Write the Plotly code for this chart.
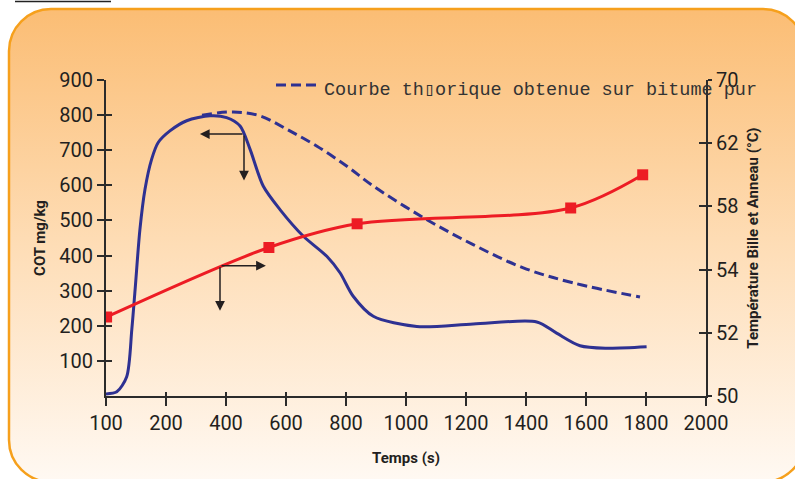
import base64
import numpy as np
import plotly.graph_objects as go

# ---------------- data ----------------
# x axis: time (s); tick labels as printed on the chart
x_tickvals = [0, 200, 400, 600, 800, 1000, 1200, 1400, 1600, 1800, 2000]
x_ticktext = ["100", "200", "400", "600", "800", "1000", "1200", "1400", "1600", "1800", "2000"]

# COT (mg/kg) measured curve
cot_t = [0, 36, 69, 86, 97, 113, 130, 152, 174, 213, 269, 347, 402, 447, 480, 524,
         580, 658, 736, 780, 824, 891, 1036, 1224, 1436, 1502, 1580, 1669, 1802]
cot_v = [6, 12, 55, 189, 303, 474, 589, 674, 722, 755, 784, 798, 793, 769, 703, 598,
         531, 455, 398, 351, 284, 227, 198, 205, 211, 179, 143, 136, 140]

# theoretical curve on pure bitumen (dashed)
theo_t = [320, 424, 513, 602, 702, 802, 891, 1058, 1224, 1391, 1558, 1780]
theo_v = [800, 809, 798, 760, 712, 655, 598, 508, 431, 365, 322, 282]

# Ring & ball temperature (°C)
temp_t = [2, 543, 837, 1549, 1789]
temp_v = [52.5, 55.4, 56.9, 57.9, 60.0]

# right axis labels (equally spaced on the chart)
temp_ticklabels = [50, 52, 54, 58, 62, 70]

cot_tickvals = [100, 200, 300, 400, 500, 600, 700, 800, 900]

legend_text = "Courbe th\u25AForique obtenue sur bitume pur"

# annotation arrows: (tail_x, tail_y, tip_x, tip_y) in x / COT units
arrows = [
    (460, 746, 313, 746),
    (460, 746, 460, 614),
    (380, 371, 533, 371),
    (380, 371, 380, 243),
]

# ---------------- figure ----------------
W, H = 795, 479
ML, MR, MT, MB = 106, 89, 80, 83
PW, PH = W - ML - MR, H - MT - MB

temp_pos = np.interp(temp_v, temp_ticklabels, np.arange(len(temp_ticklabels)))

BLUE = "#2E3192"
RED = "#ED1C24"
INK = "#2B2B2B"

fig = go.Figure()

fig.add_trace(go.Scatter(x=theo_t, y=theo_v, mode="lines",
                         line=dict(color=BLUE, width=3, dash="10px,5px", shape="spline"),
                         showlegend=False, hoverinfo="skip"))
fig.add_trace(go.Scatter(x=cot_t, y=cot_v, mode="lines",
                         line=dict(color=BLUE, width=3, shape="spline", smoothing=0.8),
                         showlegend=False))
fig.add_trace(go.Scatter(x=temp_t, y=temp_pos, mode="lines+markers", yaxis="y2",
                         line=dict(color=RED, width=3, shape="spline", smoothing=0.9),
                         marker=dict(symbol="square", size=11, color=RED),
                         showlegend=False))
# empty traces to activate overlay tick axes
fig.add_trace(go.Scatter(x=[], y=[], xaxis="x2", yaxis="y3", showlegend=False))
fig.add_trace(go.Scatter(x=[], y=[], xaxis="x2", yaxis="y4", showlegend=False))

tickfont = dict(family="Liberation Sans Narrow, Roboto, sans-serif", size=20, color="#231F20")
titlefont = dict(family="Roboto, sans-serif", size=15, color="#231F20", weight="bold")

common = dict(showgrid=False, zeroline=False, linecolor=INK, linewidth=2,
              tickcolor=INK, tickwidth=2, tickfont=tickfont)

fig.update_layout(
    width=W, height=H,
    margin=dict(l=ML, r=MR, t=MT, b=MB, pad=0),
    paper_bgcolor="white", plot_bgcolor="rgba(0,0,0,0)",
    xaxis=dict(range=[0, 2000], tickvals=x_tickvals, ticktext=x_ticktext,
               ticks="outside", ticklen=8, showline=True,
               title=dict(text="Temps (s)", font=titlefont, standoff=18),
               **common),
    xaxis2=dict(range=[0, 2000], overlaying="x", anchor="y3", tickvals=x_tickvals,
                ticks="inside", ticklen=4, showline=False, showticklabels=False,
                showgrid=False, zeroline=False, tickcolor=INK, tickwidth=2),
    yaxis=dict(range=[0, 900], tickvals=cot_tickvals, ticks="outside", ticklen=7,
               showline=True,
               title=dict(text="COT mg/kg", font=titlefont, standoff=10),
               **common),
    yaxis3=dict(range=[0, 900], overlaying="y", anchor="x2", tickvals=cot_tickvals,
                ticks="inside", ticklen=6, showline=False, showticklabels=False,
                showgrid=False, zeroline=False, tickcolor=INK, tickwidth=2),
    yaxis2=dict(range=[0, 5], overlaying="y", side="right", anchor="x",
                tickvals=list(range(len(temp_ticklabels))),
                ticktext=[str(v) for v in temp_ticklabels],
                ticks="outside", ticklen=4, showline=True,
                title=dict(text="Température Bille et Anneau (°C)", font=titlefont, standoff=10),
                **common),
    yaxis4=dict(range=[0, 5], overlaying="y", side="right", anchor="free", position=1,
                tickvals=list(range(len(temp_ticklabels))),
                ticks="inside", ticklen=7, showline=False, showticklabels=False,
                showgrid=False, zeroline=False, tickcolor=INK, tickwidth=2),
)

for tx, ty, hx, hy in arrows:
    fig.add_annotation(x=hx, y=hy, ax=tx, ay=ty, xref="x", yref="y", axref="x", ayref="y",
                       text="", showarrow=True, arrowhead=2, arrowsize=1.3, arrowwidth=1.5,
                       arrowcolor="#231F20", standoff=0, startstandoff=0)

# legend for the dashed curve
def px2paper_x(px):
    return (px - ML) / PW

def px2paper_y(py):
    return (H - MB - py) / PH

fig.add_shape(type="line", xref="paper", yref="paper",
              x0=px2paper_x(276), x1=px2paper_x(317), y0=px2paper_y(85), y1=px2paper_y(85),
              line=dict(color=BLUE, width=3, dash="10px,5px"))
fig.add_annotation(xref="paper", yref="paper", x=px2paper_x(322), y=px2paper_y(91),
                   xanchor="left", yanchor="middle", showarrow=False, text=legend_text,
                   font=dict(family="Liberation Mono, DejaVu Sans Mono, monospace",
                             size=18.5, color="#333333"))

# rounded gradient background panel
svg = f"""<svg xmlns='http://www.w3.org/2000/svg' width='{W}' height='{H}' viewBox='0 0 {W} {H}'>
<defs><linearGradient id='g' x1='0' y1='0' x2='0' y2='1'>
<stop offset='0' stop-color='#FBBD74'/><stop offset='0.5' stop-color='#FEDDB6'/>
<stop offset='1' stop-color='#FFF9F3'/></linearGradient></defs>
<rect x='9' y='9' width='796' height='473' rx='42' ry='42' fill='url(#g)' stroke='#F6A01C' stroke-width='2.5'/>
<line x1='15' y1='1.5' x2='111' y2='1.5' stroke='#222' stroke-width='1.5'/>
</svg>"""
src = "data:image/svg+xml;base64," + base64.b64encode(svg.encode()).decode()
fig.add_layout_image(source=src, xref="paper", yref="paper",
                     x=-ML / PW, y=(H - MB) / PH, sizex=W / PW, sizey=H / PH,
                     xanchor="left", yanchor="top", sizing="stretch", layer="below")

fig.write_html("out.html", config={"displayModeBar": False},
               post_script="document.body.style.margin='0';document.body.style.overflow='hidden';")
